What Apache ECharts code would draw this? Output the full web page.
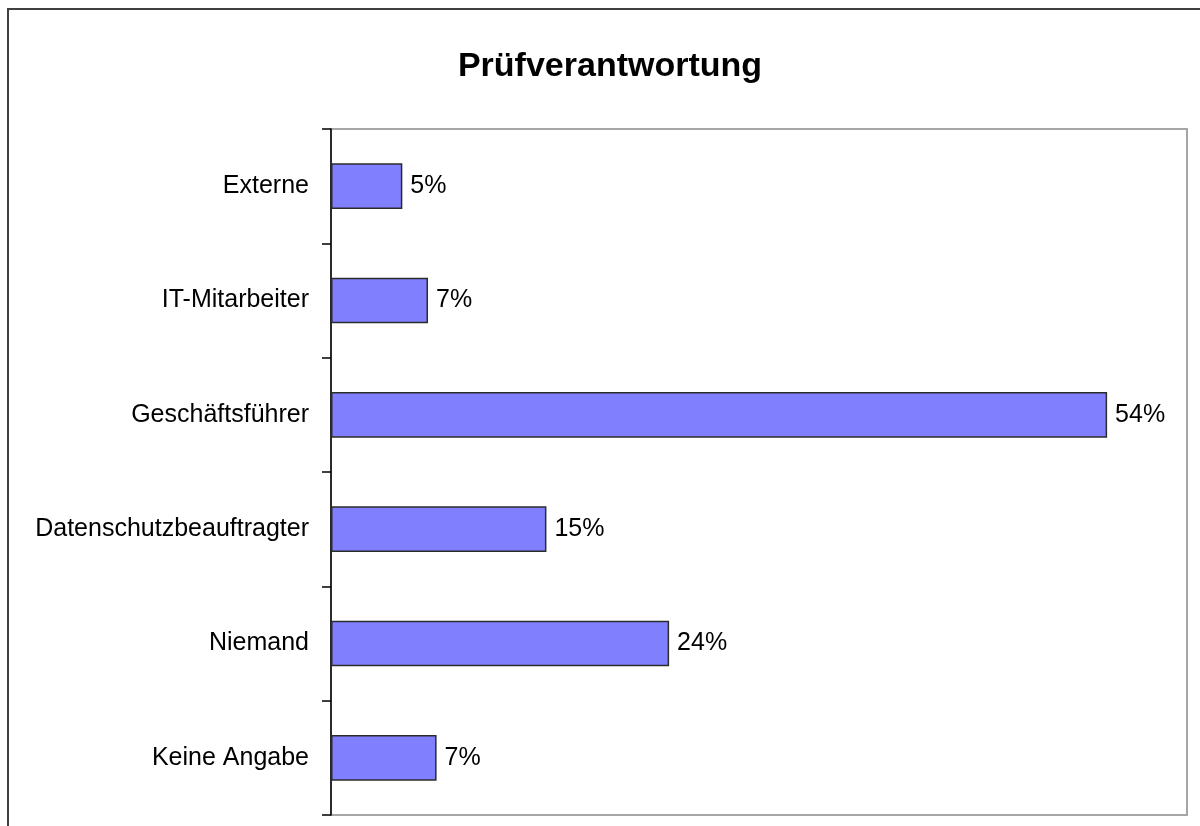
<!DOCTYPE html>
<html>
<head>
<meta charset="utf-8">
<script src="https://cdn.jsdelivr.net/npm/echarts@6/dist/echarts.min.js"></script>
<style>
  html, body { margin: 0; padding: 0; background: #fff; }
  #chart { width: 1200px; height: 826px; }
</style>
</head>
<body>
<div id="chart"></div>
<script>
// Kategorien (von oben nach unten)
const categories = ['Externe', 'IT-Mitarbeiter', 'Geschäftsführer', 'Datenschutzbeauftragter', 'Niemand', 'Keine Angabe']
// Anteile
const values = [0.05, 0.068, 0.544, 0.151, 0.237, 0.074]
const titleText = 'Prüfverantwortung'

const chart = echarts.init(document.getElementById('chart'))
chart.setOption({
  animation: false,
  backgroundColor: '#fff',
  textStyle: { fontFamily: 'Liberation Sans, Arial, sans-serif' },
  title: {
    text: titleText,
    left: 605,
    textAlign: 'center',
    top: 45,
    textStyle: {
      color: '#000',
      fontSize: 34,
      fontWeight: 'bold',
      fontFamily: 'Liberation Sans, Arial, sans-serif'
    }
  },
  graphic: [
    {
      type: 'rect',
      shape: { x: 8, y: 9, width: 1220, height: 840 },
      style: { fill: 'none', stroke: '#404040', lineWidth: 2 },
      silent: true
    }
  ],
  grid: {
    left: 331,
    top: 129,
    right: 13,
    bottom: 11,
    show: true,
    borderColor: '#a6a6a6',
    borderWidth: 2,
    backgroundColor: '#fff'
  },
  xAxis: {
    type: 'value',
    min: 0,
    max: 0.6,
    axisLine: { show: false },
    axisTick: { show: false },
    axisLabel: { show: false },
    splitLine: { show: false }
  },
  yAxis: {
    type: 'category',
    inverse: true,
    data: categories,
    axisLine: { show: true, lineStyle: { color: '#000', width: 1.5 } },
    axisTick: { show: true, length: 9, lineStyle: { color: '#000', width: 1.5 } },
    axisLabel: {
      color: '#000',
      fontSize: 25,
      margin: 22,
      fontFamily: 'Liberation Sans, Arial, sans-serif'
    }
  },
  series: [
    {
      type: 'bar',
      data: values,
      barWidth: '40%',
      itemStyle: {
        color: '#8080ff',
        borderColor: '#2b2b2b',
        borderWidth: 1.5
      },
      label: {
        show: true,
        position: 'right',
        distance: 8,
        color: '#000',
        fontSize: 25,
        fontFamily: 'Liberation Sans, Arial, sans-serif',
        formatter: p => Math.round(p.value * 100) + '%'
      }
    }
  ]
})
</script>
</body>
</html>
